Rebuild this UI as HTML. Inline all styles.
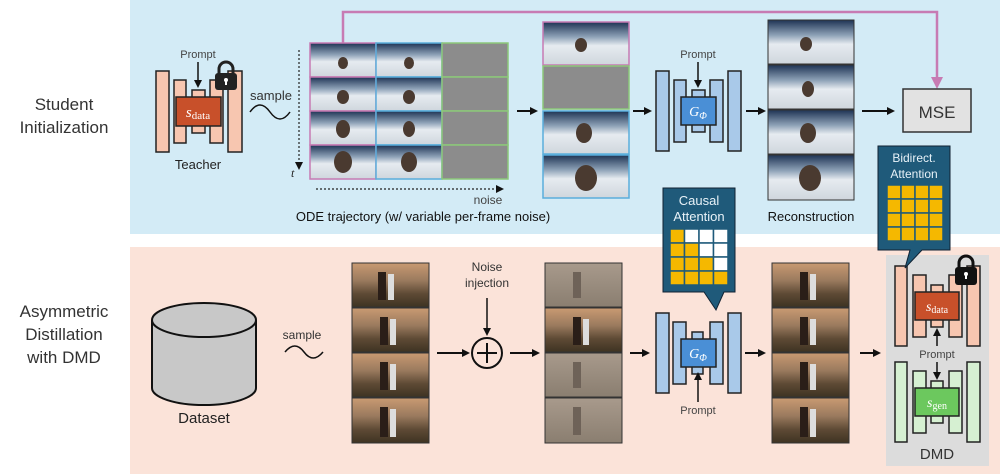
<!DOCTYPE html>
<html><head><meta charset="utf-8"><style>
html,body{margin:0;padding:0;background:#fff;}
svg{display:block;font-family:"Liberation Sans",sans-serif;}
</style></head><body>
<svg width="1000" height="474" viewBox="0 0 1000 474" xmlns="http://www.w3.org/2000/svg">
<defs>
<linearGradient id="snow" x1="0" y1="0" x2="0" y2="1">
<stop offset="0" stop-color="#1e3354"/><stop offset="0.35" stop-color="#8fa3b8"/><stop offset="0.55" stop-color="#e6ebf0"/><stop offset="1" stop-color="#cfd6dd"/></linearGradient>
<linearGradient id="sun" x1="0" y1="0" x2="0" y2="1">
<stop offset="0" stop-color="#c99a72"/><stop offset="0.4" stop-color="#9a7a5e"/><stop offset="0.7" stop-color="#5e4a35"/><stop offset="1" stop-color="#3e3322"/></linearGradient>
<linearGradient id="fog" x1="0" y1="0" x2="0" y2="1">
<stop offset="0" stop-color="#a89a8c"/><stop offset="1" stop-color="#8a7e70"/></linearGradient>
<marker id="ah" markerWidth="8" markerHeight="8" refX="6" refY="4" orient="auto" markerUnits="userSpaceOnUse"><path d="M0,0 L8,4 L0,8 z" fill="#111"/></marker>
<marker id="ahp" markerWidth="12" markerHeight="12" refX="9" refY="6" orient="auto" markerUnits="userSpaceOnUse"><path d="M0,0 L12,6 L0,12 z" fill="#c77bb3"/></marker>
</defs>
<rect x="130" y="0" width="870" height="234" fill="#d3ebf6"/>
<rect x="130" y="247" width="870" height="227" fill="#fbe3d9"/>

<text x="64" y="110" font-size="17" text-anchor="middle" fill="#333">Student</text>
<text x="64" y="133" font-size="17" text-anchor="middle" fill="#333">Initialization</text>
<text x="64" y="317" font-size="17" text-anchor="middle" fill="#333">Asymmetric</text>
<text x="64" y="340" font-size="17" text-anchor="middle" fill="#333">Distillation</text>
<text x="64" y="363" font-size="17" text-anchor="middle" fill="#333">with DMD</text>

<!-- Teacher -->
<g fill="#f7c6b0" stroke="#222" stroke-width="1.5">
<rect x="156" y="71" width="13" height="81"/><rect x="174" y="80" width="12" height="63"/><rect x="192" y="90" width="13" height="43"/><rect x="210" y="80" width="13" height="63"/><rect x="228" y="71" width="14" height="81"/>
</g>
<rect x="176" y="97" width="45" height="29" fill="#c8502a" stroke="#222" stroke-width="1.5"/>
<text x="198" y="117" font-size="15" fill="#fff" text-anchor="middle" font-family="Liberation Serif,serif"><tspan font-style="italic">s</tspan><tspan font-size="11" dy="2">data</tspan></text>
<text x="198" y="58" font-size="11" fill="#444" text-anchor="middle">Prompt</text>
<line x1="198" y1="62" x2="198" y2="86" stroke="#111" stroke-width="1.5" marker-end="url(#ah)"/>
<g><path d="M219,74 v-5 a7,7 0 0 1 14,0 v5" fill="none" stroke="#222" stroke-width="3"/><rect x="215" y="73" width="22" height="17" rx="3" fill="#222"/><circle cx="226" cy="80" r="2" fill="#fff"/><rect x="225" y="80" width="2" height="5" fill="#fff"/></g>
<text x="198" y="169" font-size="13" fill="#222" text-anchor="middle">Teacher</text>
<text x="271" y="100" font-size="13" fill="#333" text-anchor="middle">sample</text>
<path d="M250,112 q10,-14 20,0 t20,0" fill="none" stroke="#111" stroke-width="1.5"/>

<!-- ODE grid -->
<g>
<rect x="310" y="43" width="66" height="34" fill="url(#snow)" stroke="#c77bb3" stroke-width="1.5"/>
<rect x="310" y="77" width="66" height="34" fill="url(#snow)" stroke="#c77bb3" stroke-width="1.5"/>
<rect x="310" y="111" width="66" height="34" fill="url(#snow)" stroke="#c77bb3" stroke-width="1.5"/>
<rect x="310" y="145" width="66" height="34" fill="url(#snow)" stroke="#c77bb3" stroke-width="1.5"/>
<rect x="376" y="43" width="66" height="34" fill="url(#snow)" stroke="#5aaedc" stroke-width="1.5"/>
<rect x="376" y="77" width="66" height="34" fill="url(#snow)" stroke="#5aaedc" stroke-width="1.5"/>
<rect x="376" y="111" width="66" height="34" fill="url(#snow)" stroke="#5aaedc" stroke-width="1.5"/>
<rect x="376" y="145" width="66" height="34" fill="url(#snow)" stroke="#5aaedc" stroke-width="1.5"/>
<rect x="442" y="43" width="66" height="34" fill="#8c8c8c" stroke="#8cc87a" stroke-width="1.5"/>
<rect x="442" y="77" width="66" height="34" fill="#8c8c8c" stroke="#8cc87a" stroke-width="1.5"/>
<rect x="442" y="111" width="66" height="34" fill="#8c8c8c" stroke="#8cc87a" stroke-width="1.5"/>
<rect x="442" y="145" width="66" height="34" fill="#8c8c8c" stroke="#8cc87a" stroke-width="1.5"/>
</g>
<g fill="#4a3a30"><ellipse cx="343" cy="63" rx="5" ry="6"/><ellipse cx="343" cy="97" rx="6" ry="7"/><ellipse cx="343" cy="129" rx="7" ry="9"/><ellipse cx="343" cy="162" rx="9" ry="11"/><ellipse cx="409" cy="63" rx="5" ry="6"/><ellipse cx="409" cy="97" rx="6" ry="7"/><ellipse cx="409" cy="129" rx="6" ry="8"/><ellipse cx="409" cy="162" rx="8" ry="10"/></g>
<line x1="299" y1="50" x2="299" y2="168" stroke="#222" stroke-width="1.2" stroke-dasharray="2,2" marker-end="url(#ah)"/>
<text x="291" y="177" font-size="12" font-style="italic" fill="#222" font-family="Liberation Serif,serif">t</text>
<line x1="316" y1="189" x2="502" y2="189" stroke="#222" stroke-width="1.2" stroke-dasharray="2,2" marker-end="url(#ah)"/>
<text x="488" y="204" font-size="12" fill="#444" text-anchor="middle">noise</text>
<text x="423" y="221" font-size="13" fill="#111" text-anchor="middle">ODE trajectory (w/ variable per-frame noise)</text>

<!-- pink line -->
<path d="M343,43 V12 H937 V86" fill="none" stroke="#c77bb3" stroke-width="2.5" marker-end="url(#ahp)"/>

<line x1="517" y1="111" x2="536" y2="111" stroke="#111" stroke-width="2" marker-end="url(#ah)"/>
<!-- selected column -->
<rect x="543" y="22" width="86" height="43" fill="url(#snow)" stroke="#c77bb3" stroke-width="1.5"/>
<rect x="543" y="66" width="86" height="43" fill="#8c8c8c" stroke="#8cc87a" stroke-width="1.5"/>
<rect x="543" y="111" width="86" height="43" fill="url(#snow)" stroke="#5aaedc" stroke-width="1.5"/>
<rect x="543" y="155" width="86" height="43" fill="url(#snow)" stroke="#5aaedc" stroke-width="1.5"/>
<g fill="#4a3a30"><ellipse cx="581" cy="45" rx="6" ry="7"/><ellipse cx="584" cy="133" rx="8" ry="10"/><ellipse cx="586" cy="178" rx="11" ry="13"/></g>
<line x1="633" y1="111" x2="650" y2="111" stroke="#111" stroke-width="2" marker-end="url(#ah)"/>

<!-- G top -->
<g fill="#a9c9e9" stroke="#222" stroke-width="1.5">
<rect x="656" y="71" width="13" height="80"/><rect x="674" y="80" width="12" height="62"/><rect x="692" y="90" width="13" height="42"/><rect x="710" y="80" width="13" height="62"/><rect x="728" y="71" width="13" height="80"/>
</g>
<rect x="681" y="97" width="35" height="28" fill="#4a8fd6" stroke="#222" stroke-width="1.5"/>
<text x="698" y="116" font-size="14" fill="#fff" text-anchor="middle" font-family="Liberation Serif,serif" font-style="italic">G<tspan font-size="10" dy="3">Φ</tspan></text>
<text x="698" y="58" font-size="11" fill="#444" text-anchor="middle">Prompt</text>
<line x1="698" y1="62" x2="698" y2="86" stroke="#111" stroke-width="1.5" marker-end="url(#ah)"/>
<line x1="746" y1="111" x2="764" y2="111" stroke="#111" stroke-width="2" marker-end="url(#ah)"/>

<!-- Reconstruction -->
<rect x="768" y="20" width="86" height="44" fill="url(#snow)" stroke="#333" stroke-width="1"/>
<rect x="768" y="65" width="86" height="44" fill="url(#snow)" stroke="#333" stroke-width="1"/>
<rect x="768" y="110" width="86" height="44" fill="url(#snow)" stroke="#333" stroke-width="1"/>
<rect x="768" y="155" width="86" height="45" fill="url(#snow)" stroke="#333" stroke-width="1"/>
<g fill="#4a3a30"><ellipse cx="806" cy="44" rx="6" ry="7"/><ellipse cx="808" cy="89" rx="6" ry="8"/><ellipse cx="808" cy="133" rx="8" ry="10"/><ellipse cx="810" cy="178" rx="11" ry="13"/></g>
<text x="811" y="221" font-size="13" fill="#111" text-anchor="middle">Reconstruction</text>
<line x1="862" y1="111" x2="893" y2="111" stroke="#111" stroke-width="2" marker-end="url(#ah)"/>
<rect x="903" y="89" width="68" height="43" fill="#e2e2e2" stroke="#333" stroke-width="1.5"/>
<text x="937" y="118" font-size="17" fill="#333" text-anchor="middle">MSE</text>

<!-- Bottom: Dataset -->
<path d="M152,320 V388 A52,17 0 0 0 256,388 V320" fill="#c8c8c8" stroke="#111" stroke-width="2"/>
<ellipse cx="204" cy="320" rx="52" ry="17" fill="#c8c8c8" stroke="#111" stroke-width="2"/>
<text x="204" y="423" font-size="15" fill="#222" text-anchor="middle">Dataset</text>
<text x="302" y="339" font-size="12" fill="#333" text-anchor="middle">sample</text>
<path d="M285,352 q10,-12 19,0 t19,0" fill="none" stroke="#111" stroke-width="1.5"/>

<g stroke="#333" stroke-width="1">
<rect x="352" y="263" width="77" height="44" fill="url(#sun)"/><rect x="352" y="308" width="77" height="44" fill="url(#sun)"/><rect x="352" y="353" width="77" height="44" fill="url(#sun)"/><rect x="352" y="398" width="77" height="45" fill="url(#sun)"/>
<rect x="545" y="263" width="77" height="44" fill="url(#fog)"/><rect x="545" y="308" width="77" height="44" fill="url(#sun)"/><rect x="545" y="353" width="77" height="44" fill="url(#fog)"/><rect x="545" y="398" width="77" height="45" fill="url(#fog)"/>
<rect x="772" y="263" width="77" height="44" fill="url(#sun)"/><rect x="772" y="308" width="77" height="44" fill="url(#sun)"/><rect x="772" y="353" width="77" height="44" fill="url(#sun)"/><rect x="772" y="398" width="77" height="45" fill="url(#sun)"/>
</g>
<g fill="#2a1e18">
<rect x="378" y="272" width="8" height="28"/><rect x="388" y="274" width="6" height="26" fill="#ddd"/>
<rect x="380" y="317" width="8" height="28"/><rect x="390" y="319" width="6" height="26" fill="#ddd"/>
<rect x="380" y="362" width="8" height="28"/><rect x="390" y="364" width="6" height="26" fill="#ddd"/>
<rect x="380" y="407" width="8" height="30"/><rect x="390" y="409" width="6" height="28" fill="#ddd"/>
<rect x="573" y="317" width="8" height="28"/><rect x="583" y="319" width="6" height="26" fill="#ddd"/>
<rect x="800" y="272" width="8" height="28"/><rect x="810" y="274" width="6" height="26" fill="#ddd"/>
<rect x="800" y="317" width="8" height="28"/><rect x="810" y="319" width="6" height="26" fill="#ddd"/>
<rect x="800" y="362" width="8" height="28"/><rect x="810" y="364" width="6" height="26" fill="#ddd"/>
<rect x="800" y="407" width="8" height="30"/><rect x="810" y="409" width="6" height="28" fill="#ddd"/>
</g>
<g fill="#6e6258"><rect x="573" y="272" width="8" height="26"/><rect x="573" y="362" width="8" height="26"/><rect x="573" y="407" width="8" height="28"/></g>

<text x="487" y="271" font-size="12" fill="#333" text-anchor="middle">Noise</text>
<text x="487" y="287" font-size="12" fill="#333" text-anchor="middle">injection</text>
<line x1="487" y1="298" x2="487" y2="334" stroke="#111" stroke-width="1.5" marker-end="url(#ah)"/>
<line x1="437" y1="353" x2="468" y2="353" stroke="#111" stroke-width="2" marker-end="url(#ah)"/>
<circle cx="487" cy="353" r="15" fill="none" stroke="#111" stroke-width="2"/>
<line x1="477" y1="353" x2="497" y2="353" stroke="#111" stroke-width="2"/><line x1="487" y1="343" x2="487" y2="363" stroke="#111" stroke-width="2"/>
<line x1="510" y1="353" x2="538" y2="353" stroke="#111" stroke-width="2" marker-end="url(#ah)"/>
<line x1="630" y1="353" x2="648" y2="353" stroke="#111" stroke-width="2" marker-end="url(#ah)"/>

<!-- G bottom -->
<g fill="#a9c9e9" stroke="#222" stroke-width="1.5">
<rect x="656" y="313" width="13" height="80"/><rect x="673" y="322" width="13" height="62"/><rect x="692" y="332" width="11" height="42"/><rect x="710" y="322" width="13" height="62"/><rect x="728" y="313" width="13" height="80"/>
</g>
<rect x="681" y="339" width="35" height="28" fill="#4a8fd6" stroke="#222" stroke-width="1.5"/>
<text x="698" y="358" font-size="14" fill="#fff" text-anchor="middle" font-family="Liberation Serif,serif" font-style="italic">G<tspan font-size="10" dy="3">Φ</tspan></text>
<line x1="698" y1="402" x2="698" y2="374" stroke="#111" stroke-width="1.5" marker-end="url(#ah)"/>
<text x="698" y="414" font-size="11" fill="#444" text-anchor="middle">Prompt</text>
<line x1="745" y1="353" x2="764" y2="353" stroke="#111" stroke-width="2" marker-end="url(#ah)"/>
<line x1="860" y1="353" x2="879" y2="353" stroke="#111" stroke-width="2" marker-end="url(#ah)"/>

<!-- Causal callout -->
<path d="M663,188 H735 V292 H724 L716,310 L704,292 H663 Z" fill="#1f5a7a" stroke="#123" stroke-width="1"/>
<text x="699" y="205" font-size="13" fill="#e8f2f8" text-anchor="middle">Causal</text>
<text x="699" y="221" font-size="13" fill="#e8f2f8" text-anchor="middle">Attention</text>
<g stroke="#1f5a7a" stroke-width="1.5">
<rect x="670" y="229" width="14.5" height="14" fill="#f5b800"/><rect x="684.5" y="229" width="14.5" height="14" fill="#fff"/><rect x="699" y="229" width="14.5" height="14" fill="#fff"/><rect x="713.5" y="229" width="14.5" height="14" fill="#fff"/>
<rect x="670" y="243" width="14.5" height="14" fill="#f5b800"/><rect x="684.5" y="243" width="14.5" height="14" fill="#f5b800"/><rect x="699" y="243" width="14.5" height="14" fill="#fff"/><rect x="713.5" y="243" width="14.5" height="14" fill="#fff"/>
<rect x="670" y="257" width="14.5" height="14" fill="#f5b800"/><rect x="684.5" y="257" width="14.5" height="14" fill="#f5b800"/><rect x="699" y="257" width="14.5" height="14" fill="#f5b800"/><rect x="713.5" y="257" width="14.5" height="14" fill="#fff"/>
<rect x="670" y="271" width="14.5" height="14" fill="#f5b800"/><rect x="684.5" y="271" width="14.5" height="14" fill="#f5b800"/><rect x="699" y="271" width="14.5" height="14" fill="#f5b800"/><rect x="713.5" y="271" width="14.5" height="14" fill="#f5b800"/>
</g>

<!-- DMD -->
<rect x="886" y="255" width="103" height="211" fill="#dcdcdc"/>
<g fill="#f7c6b0" stroke="#222" stroke-width="1.5">
<rect x="895" y="266" width="12" height="80"/><rect x="913" y="275" width="13" height="62"/><rect x="931" y="285" width="12" height="42"/><rect x="949" y="275" width="13" height="62"/><rect x="967" y="266" width="13" height="80"/>
</g>
<rect x="915" y="292" width="44" height="28" fill="#c8502a" stroke="#222" stroke-width="1.5"/>
<text x="937" y="311" font-size="14" fill="#fff" text-anchor="middle" font-family="Liberation Serif,serif"><tspan font-style="italic">s</tspan><tspan font-size="10" dy="2">data</tspan></text>
<g><path d="M959,268 v-5 a7,7 0 0 1 14,0 v5" fill="none" stroke="#111" stroke-width="3"/><rect x="955" y="267" width="22" height="18" rx="3" fill="#111"/><circle cx="966" cy="274" r="2" fill="#fff"/><rect x="965" y="274" width="2" height="5" fill="#fff"/></g>
<line x1="937" y1="346" x2="937" y2="330" stroke="#111" stroke-width="1.5" marker-end="url(#ah)"/>
<text x="937" y="358" font-size="11" fill="#444" text-anchor="middle">Prompt</text>
<line x1="937" y1="362" x2="937" y2="378" stroke="#111" stroke-width="1.5" marker-end="url(#ah)"/>
<g fill="#d6f0d2" stroke="#222" stroke-width="1.5">
<rect x="895" y="362" width="12" height="80"/><rect x="913" y="371" width="13" height="62"/><rect x="931" y="381" width="12" height="42"/><rect x="949" y="371" width="13" height="62"/><rect x="967" y="362" width="13" height="80"/>
</g>
<rect x="915" y="388" width="44" height="28" fill="#6cc85e" stroke="#222" stroke-width="1.5"/>
<text x="937" y="407" font-size="14" fill="#fff" text-anchor="middle" font-family="Liberation Serif,serif"><tspan font-style="italic">s</tspan><tspan font-size="10" dy="2">gen</tspan></text>
<text x="937" y="459" font-size="15" fill="#333" text-anchor="middle">DMD</text>

<!-- Bidirect callout -->
<path d="M878,146 H950 V250 H922 L905,268 L910,250 H878 Z" fill="#1f5a7a" stroke="#123" stroke-width="1"/>
<text x="914" y="162" font-size="12" fill="#e8f2f8" text-anchor="middle">Bidirect.</text>
<text x="914" y="178" font-size="12" fill="#e8f2f8" text-anchor="middle">Attention</text>
<g fill="#f5b800" stroke="#1f5a7a" stroke-width="1.5">
<rect x="887" y="185" width="14" height="14"/><rect x="901" y="185" width="14" height="14"/><rect x="915" y="185" width="14" height="14"/><rect x="929" y="185" width="14" height="14"/>
<rect x="887" y="199" width="14" height="14"/><rect x="901" y="199" width="14" height="14"/><rect x="915" y="199" width="14" height="14"/><rect x="929" y="199" width="14" height="14"/>
<rect x="887" y="213" width="14" height="14"/><rect x="901" y="213" width="14" height="14"/><rect x="915" y="213" width="14" height="14"/><rect x="929" y="213" width="14" height="14"/>
<rect x="887" y="227" width="14" height="14"/><rect x="901" y="227" width="14" height="14"/><rect x="915" y="227" width="14" height="14"/><rect x="929" y="227" width="14" height="14"/>
</g>
</svg>
</body></html>
